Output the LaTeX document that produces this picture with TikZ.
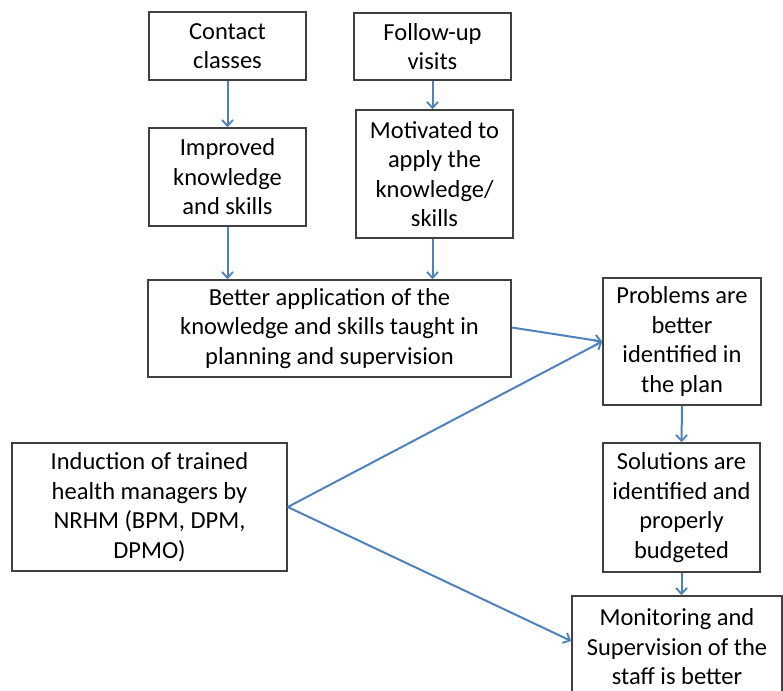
\documentclass[tikz,border=0pt]{standalone}
\usepackage{fontspec}
\setmainfont{Carlito}
\usetikzlibrary{arrows.meta,positioning}
\definecolor{arrowblue}{HTML}{4F81BD}
\definecolor{boxgrey}{HTML}{404040}
\tikzset{
  flowbox/.style={draw=boxgrey, line width=1.5pt, fill=white, align=center,
    inner sep=0pt, font=\fontsize{24.5}{29.5}\selectfont},
  flowarrow/.style={draw=arrowblue, line width=2pt,
    -{Straight Barb[length=6pt,width=11pt,line width=1.8pt]}}
}
\begin{document}
\begin{tikzpicture}[x=1pt,y=-1pt]
\useasboundingbox (0,0) rectangle (783,690);
\clip (0,0) rectangle (783,690);
\node[flowbox, minimum width=157, minimum height=68] (contact) at (227.5,46) {Contact\\classes};
\node[flowbox, minimum width=157, minimum height=67] (follow) at (432.5,46.5) {Follow-up\\visits};
\node[flowbox, minimum width=157, minimum height=98] (improved) at (227.5,177) {Improved\\knowledge\\and skills};
\node[flowbox, minimum width=157, minimum height=128] (motivated) at (434.5,174) {Motivated to\\apply the\\knowledge/\\skills};
\node[flowbox, minimum width=363, minimum height=97] (better) at (329.5,328.5) {Better application of the\\knowledge and skills taught in\\planning and supervision};
\node[flowbox, minimum width=158, minimum height=127] (problems) at (682,341.5) {Problems are\\better\\identified in\\the plan};
\node[flowbox, minimum width=157, minimum height=129] (solutions) at (681.5,507.5) {Solutions are\\identified and\\properly\\budgeted};
\node[flowbox, minimum width=210, minimum height=102] (monitoring) at (677,647) {Monitoring and\\Supervision of the\\staff is better};
\node[flowbox, minimum width=275, minimum height=128] (induction) at (149.5,507) {Induction of trained\\health managers by\\NRHM (BPM, DPM,\\DPMO)};
\draw[flowarrow] (contact.south) -- (improved.north);
\draw[flowarrow] (follow.south) -- (follow.south |- motivated.north);
\draw[flowarrow] (improved.south) -- (improved.south |- better.north);
\draw[flowarrow] (motivated.south -| follow.south) -- (follow.south |- better.north);
\draw[flowarrow] ([yshift=1pt]better.east) -- (problems.west);
\draw[flowarrow] (induction.east) -- (problems.west);
\draw[flowarrow] (induction.east) -- ([yshift=6pt]monitoring.west);
\draw[flowarrow] (problems.south) -- (solutions.north);
\draw[flowarrow] (solutions.south) -- (solutions.south |- monitoring.north);
\end{tikzpicture}
\end{document}
